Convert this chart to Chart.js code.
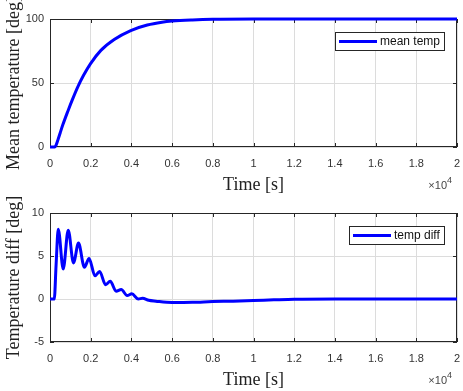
<!DOCTYPE html>
<html>
<head>
<meta charset="utf-8">
<script src="https://cdn.jsdelivr.net/npm/chart.js@4"></script>
<style>
  html, body { margin: 0; padding: 0; background: #fff; }
  #wrap { position: relative; width: 463px; height: 391px; }
  canvas { position: absolute; left: 0; }
</style>
</head>
<body>
<div id="wrap">
  <canvas id="top" width="463" height="197" style="top:0;width:463px;height:197px"></canvas>
  <canvas id="bottom" width="463" height="195" style="top:196px;width:463px;height:195px"></canvas>
</div>
<script>
// time in seconds
const timeMean = [0, 230, 300, 400, 500, 634, 878, 1100, 1366, 1650, 1985, 2500, 3155, 3966, 4780, 5500, 6000, 7000, 8000, 10000, 20000];
const meanTemp = [0, 0, 1.5, 6, 11, 17.5, 28, 37, 47, 56, 65, 75.5, 84, 91, 95.3, 97.5, 98.4, 99.3, 99.8, 100, 100];

const timeDiff = [0, 210, 300, 405, 650, 895, 1155, 1400, 1690, 1920, 2210, 2440, 2730, 2960, 3250, 3500, 3790, 4020, 4340, 4550, 4850, 5200, 6000, 7000, 8000, 9000, 10000, 11000, 12000, 14000, 20000];
const tempDiff = [0, 0, 4, 8.1, 3.5, 8.0, 4.2, 6.5, 3.7, 4.7, 2.7, 3.2, 1.66, 2.05, 0.9, 1.1, 0.4, 0.6, 0.0, 0.1, -0.15, -0.25, -0.4, -0.38, -0.3, -0.25, -0.18, -0.1, -0.03, 0, 0];

const xMax = 20000;
const xStep = 2000;
const xExponent = '4';

const sans = '"Liberation Sans", Arial, Helvetica, sans-serif';
const serif = '"Liberation Serif", "Times New Roman", serif';
const axisColor = '#262626';
const lineBlue = '#0000ff';

function toPoints(xs, ys) {
  return xs.map((x, i) => ({ x: x, y: ys[i] }));
}

// matlab look: box, inward ticks, boxed legend, x10^4 note
const matlabAxes = {
  id: 'matlabAxes',
  beforeDatasetsDraw(chart) {
    const { ctx, chartArea: a, scales } = chart;
    ctx.save();
    ctx.strokeStyle = axisColor;
    ctx.lineWidth = 1;
    ctx.strokeRect(a.left + 0.5, a.top + 0.5, a.right - a.left - 1, a.bottom - a.top - 1);
    ctx.beginPath();
    scales.x.ticks.forEach(t => {
      const px = Math.round(scales.x.getPixelForValue(t.value)) + 0.5;
      ctx.moveTo(px, a.bottom); ctx.lineTo(px, a.bottom - 4);
      ctx.moveTo(px, a.top); ctx.lineTo(px, a.top + 4);
    });
    scales.y.ticks.forEach(t => {
      const py = Math.round(scales.y.getPixelForValue(t.value)) + 0.5;
      ctx.moveTo(a.left, py); ctx.lineTo(a.left + 4, py);
      ctx.moveTo(a.right, py); ctx.lineTo(a.right - 4, py);
    });
    ctx.stroke();
    ctx.restore();
  },
  afterDraw(chart) {
    const { ctx, chartArea: a } = chart;
    const ds = chart.data.datasets[0];
    ctx.save();
    // legend
    ctx.font = '12px ' + sans;
    const tw = ctx.measureText(ds.label).width;
    const w = 4 + 38 + 3 + tw + 4;
    const h = 18;
    const bx = Math.round(a.right - 13 - w);
    const by = a.top + 13;
    ctx.fillStyle = '#fff';
    ctx.fillRect(bx, by, w, h);
    ctx.strokeStyle = axisColor;
    ctx.lineWidth = 1;
    ctx.strokeRect(bx + 0.5, by + 0.5, Math.round(w), h);
    ctx.strokeStyle = ds.borderColor;
    ctx.lineWidth = 3;
    ctx.beginPath();
    ctx.moveTo(bx + 4, by + h / 2 + 0.5);
    ctx.lineTo(bx + 42, by + h / 2 + 0.5);
    ctx.stroke();
    ctx.fillStyle = '#111';
    ctx.textBaseline = 'middle';
    ctx.textAlign = 'left';
    ctx.fillText(ds.label, bx + 45, by + h / 2 + 1);
    // exponent note
    ctx.fillStyle = '#444';
    ctx.textBaseline = 'alphabetic';
    ctx.textAlign = 'right';
    ctx.font = '11px ' + sans;
    ctx.fillText('\u00d710', a.right - 10, a.bottom + 42);
    ctx.textAlign = 'left';
    ctx.font = '9px ' + sans;
    ctx.fillText(xExponent, a.right - 10, a.bottom + 36);
    ctx.restore();
  }
};

function makeChart(id, xs, ys, label, yMin, yMax, yStep, yTitle, padTop, xHeight, titleBottom) {
  return new Chart(document.getElementById(id), {
    type: 'line',
    data: {
      datasets: [{
        label: label,
        data: toPoints(xs, ys),
        borderColor: lineBlue,
        borderWidth: 3,
        pointRadius: 0,
        cubicInterpolationMode: 'monotone',
        fill: false,
        clip: false
      }]
    },
    options: {
      responsive: false,
      animation: false,
      layout: { padding: { top: padTop, right: 6, left: 0, bottom: 0 } },
      plugins: { legend: { display: false }, tooltip: { enabled: false } },
      scales: {
        x: {
          type: 'linear',
          min: 0,
          max: xMax,
          afterFit(scale) {
            scale.height = xHeight;
            // keep the tick padding from eating into the plot width
            scale.paddingLeft = 0;
            scale.paddingRight = 0;
          },
          ticks: {
            stepSize: xStep,
            padding: 10,
            color: '#333',
            font: { family: sans, size: 11 },
            callback: v => String(Math.round(v / 1000) / 10)
          },
          grid: { color: '#dcdcdc', drawTicks: false },
          border: { display: false },
          title: {
            display: true,
            text: 'Time [s]',
            color: '#222',
            font: { family: serif, size: 18 },
            padding: { top: 0, bottom: titleBottom }
          }
        },
        y: {
          min: yMin,
          max: yMax,
          afterFit(scale) { scale.width = 50; },
          ticks: {
            stepSize: yStep,
            padding: 6,
            color: '#333',
            font: { family: sans, size: 11 }
          },
          grid: { color: '#dcdcdc', drawTicks: false },
          border: { display: false },
          title: {
            display: true,
            text: yTitle,
            color: '#222',
            font: { family: serif, size: 18 },
            padding: { top: 3, bottom: 0 }
          }
        }
      }
    },
    plugins: [matlabAxes]
  });
}

makeChart('top', timeMean, meanTemp, 'mean temp', 0, 100, 50, 'Mean temperature [deg]', 19, 50, 1);
makeChart('bottom', timeDiff, tempDiff, 'temp diff', -5, 10, 5, 'Temperature diff [deg]', 17, 49, 0);
</script>
</body>
</html>
